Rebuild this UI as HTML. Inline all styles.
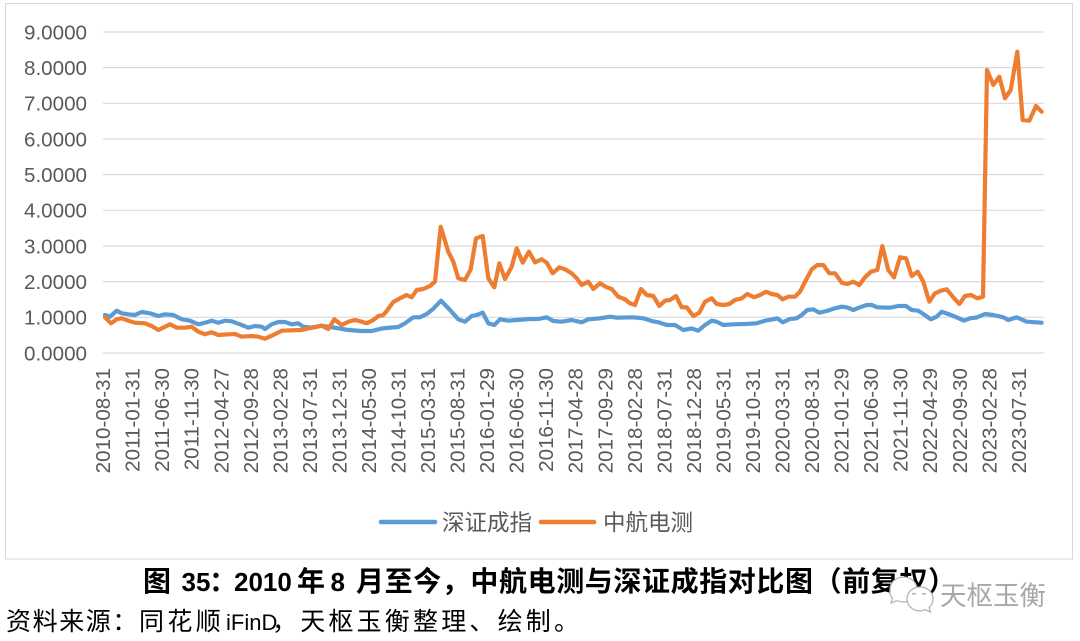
<!DOCTYPE html>
<html>
<head>
<meta charset="utf-8">
<style>
  html,body{margin:0;padding:0;background:#fff;}
  svg{display:block;}
  .lat{font-family:"Liberation Sans",Arial,sans-serif;}
  .cjk{font-family:"Liberation Sans","Noto Sans CJK SC","WenQuanYi Zen Hei",sans-serif;}
</style>
</head>
<body>
<svg width="1080" height="641" viewBox="0 0 1080 641" xmlns="http://www.w3.org/2000/svg">
  <rect x="0" y="0" width="1080" height="641" fill="#fff"/>
  <!-- chart border -->
  <rect x="5.5" y="3.5" width="1067" height="555.5" fill="#fff" stroke="#d9d9d9" stroke-width="1"/>

  <!-- gridlines -->
  <g stroke="#d9d9d9" stroke-width="1.2">
    <line x1="103" y1="353" x2="1044" y2="353"/>
    <line x1="103" y1="317.33" x2="1044" y2="317.33"/>
    <line x1="103" y1="281.66" x2="1044" y2="281.66"/>
    <line x1="103" y1="245.99" x2="1044" y2="245.99"/>
    <line x1="103" y1="210.32" x2="1044" y2="210.32"/>
    <line x1="103" y1="174.65" x2="1044" y2="174.65"/>
    <line x1="103" y1="138.98" x2="1044" y2="138.98"/>
    <line x1="103" y1="103.31" x2="1044" y2="103.31"/>
    <line x1="103" y1="67.64" x2="1044" y2="67.64"/>
    <line x1="103" y1="31.97" x2="1044" y2="31.97"/>
  </g>

  <!-- y labels -->
  <g class="lat" font-size="20.6" fill="#595959" text-anchor="end">
    <text x="87" y="360.4">0.0000</text>
    <text x="87" y="324.7">1.0000</text>
    <text x="87" y="289.1">2.0000</text>
    <text x="87" y="253.4">3.0000</text>
    <text x="87" y="217.7">4.0000</text>
    <text x="87" y="182.1">5.0000</text>
    <text x="87" y="146.4">6.0000</text>
    <text x="87" y="110.7">7.0000</text>
    <text x="87" y="75.0">8.0000</text>
    <text x="87" y="39.4">9.0000</text>
  </g>

  <!-- x labels -->
  <g class="lat" font-size="20.6" fill="#595959" text-anchor="end">
    <text transform="translate(102.7,368) rotate(-90)" dy="0.36em">2010-08-31</text>
    <text transform="translate(132.2,368) rotate(-90)" dy="0.36em">2011-01-31</text>
    <text transform="translate(161.8,368) rotate(-90)" dy="0.36em">2011-06-30</text>
    <text transform="translate(191.3,368) rotate(-90)" dy="0.36em">2011-11-30</text>
    <text transform="translate(220.9,368) rotate(-90)" dy="0.36em">2012-04-27</text>
    <text transform="translate(250.4,368) rotate(-90)" dy="0.36em">2012-09-28</text>
    <text transform="translate(279.9,368) rotate(-90)" dy="0.36em">2013-02-28</text>
    <text transform="translate(309.5,368) rotate(-90)" dy="0.36em">2013-07-31</text>
    <text transform="translate(339.0,368) rotate(-90)" dy="0.36em">2013-12-31</text>
    <text transform="translate(368.6,368) rotate(-90)" dy="0.36em">2014-05-30</text>
    <text transform="translate(398.1,368) rotate(-90)" dy="0.36em">2014-10-31</text>
    <text transform="translate(427.6,368) rotate(-90)" dy="0.36em">2015-03-31</text>
    <text transform="translate(457.2,368) rotate(-90)" dy="0.36em">2015-08-31</text>
    <text transform="translate(486.7,368) rotate(-90)" dy="0.36em">2016-01-29</text>
    <text transform="translate(516.3,368) rotate(-90)" dy="0.36em">2016-06-30</text>
    <text transform="translate(545.8,368) rotate(-90)" dy="0.36em">2016-11-30</text>
    <text transform="translate(575.3,368) rotate(-90)" dy="0.36em">2017-04-28</text>
    <text transform="translate(604.9,368) rotate(-90)" dy="0.36em">2017-09-29</text>
    <text transform="translate(634.4,368) rotate(-90)" dy="0.36em">2018-02-28</text>
    <text transform="translate(664.0,368) rotate(-90)" dy="0.36em">2018-07-31</text>
    <text transform="translate(693.5,368) rotate(-90)" dy="0.36em">2018-12-28</text>
    <text transform="translate(723.0,368) rotate(-90)" dy="0.36em">2019-05-31</text>
    <text transform="translate(752.6,368) rotate(-90)" dy="0.36em">2019-10-31</text>
    <text transform="translate(782.1,368) rotate(-90)" dy="0.36em">2020-03-31</text>
    <text transform="translate(811.7,368) rotate(-90)" dy="0.36em">2020-08-31</text>
    <text transform="translate(841.2,368) rotate(-90)" dy="0.36em">2021-01-29</text>
    <text transform="translate(870.7,368) rotate(-90)" dy="0.36em">2021-06-30</text>
    <text transform="translate(900.3,368) rotate(-90)" dy="0.36em">2021-11-30</text>
    <text transform="translate(929.8,368) rotate(-90)" dy="0.36em">2022-04-29</text>
    <text transform="translate(959.4,368) rotate(-90)" dy="0.36em">2022-09-30</text>
    <text transform="translate(988.9,368) rotate(-90)" dy="0.36em">2023-02-28</text>
    <text transform="translate(1018.4,368) rotate(-90)" dy="0.36em">2023-07-31</text>
  </g>

  <!-- blue series: 深证成指 -->
  <polyline fill="none" stroke="#5b9bd5" stroke-width="4.2" stroke-linejoin="round" stroke-linecap="round" points="
105,315 110,316.7 116.7,310.7 121.7,313.3 128.3,314.3 135,315 141.7,312 150,313.3 158.3,316 165,314.3 173.3,315
181.7,319.3 190,320.7 198.3,324.3 205,322.7 211.7,320.7 218.3,322.7 225,320.7 231.7,321.3 240,324.3 248.3,327.7
255,326 261.7,326.7 265,329 271.7,324.3 278.3,322 285,322 291.7,324.3 298.3,323.3 303.3,326.7 311.7,327.7
321.7,325.7 328.3,326.7 338.3,328.3 348.3,330 361.7,331 371.7,331 381.7,328.5 391.7,327.5 398.3,327 405,323.3
413.3,317.3 420,317.3 426.7,314 433.3,308.7 441,300.7 450,310 458.3,319.3 465,321.7 471.7,316 476.7,315
482.7,312.7 488.3,323.3 494.3,325 500,319.3 508.3,320.7 516.7,320 530,319 538.3,319 546.7,317.3 553.3,321
561.7,321.7 571.7,320 581.7,322.3 588.3,319.3 600,318.3 610,316.7 616.7,317.7 633.3,317.3 643.3,318.3 651.7,321
658.3,322.3 666.7,325 675,325 683.3,330 691.7,328.5 698.3,330.7 705,325 711.7,320.7 716.7,321.7 723.3,325
733.3,324.3 745,324 756.7,323.3 765,320.7 773.3,319.3 777.3,318.3 782.7,322.3 790,319 796.7,318.3 801.7,315
807.3,310 813.3,309.3 819.3,312.7 826.7,311 835,308.3 841.7,306.7 846.7,307.3 853.3,310 860,307.3 866.7,305
871.7,305 877.3,307.3 890,307.7 898.3,306 906,306 911.7,310 918.3,310.7 923.3,314 930.7,319.3 936.7,316.7
941.7,311.7 948.3,314 956.7,317.3 964,320.7 970,318.3 976.7,317.5 985,314 993.3,315 1003.3,317.3 1008.3,320
1016.7,317.3 1026.7,321.7 1041.7,322.7"/>

  <!-- orange series: 中航电测 -->
  <polyline fill="none" stroke="#ed7d31" stroke-width="4.2" stroke-linejoin="round" stroke-linecap="round" points="
105,317.3 111,323.3 116.7,319.3 121.7,318.3 128.3,320.7 135,322.7 145,323.3 151.7,326 158.3,330 165,326.7
170,324.3 176.7,327.7 185,327.7 191.7,326.7 198.3,331.7 205,334.3 211.7,332.3 218.3,335 228.3,334.3 235,334
241.7,336.7 251.7,336 258.3,336.7 265,338.7 271.7,335.7 281.7,330.7 291.7,330.3 301.7,330 311.7,327.7 321.7,325.7
328.3,329 334.3,319.3 341.7,325 348.3,321.7 355,320 361.7,321.7 366.7,323.3 373.3,320 378.3,316 383.3,315
386.7,311 393.3,302 400,298.3 406.7,295 411.7,297.3 416.7,290 423.3,289 430,286 435,281.7 440.7,226.7
448.3,251.7 453.3,261.7 458.3,278.3 465,280 470.7,269.3 476,238.3 482.7,236 488.3,278.3 494.3,287.3 499.3,263.3
505,279 511.7,266.7 516.7,248.3 522.7,262.7 529,251.7 535,262.3 541.7,259.3 546.7,262.7 552.7,273.3 559.3,267.3
565,269.3 571.7,273.3 576.7,278.3 581.7,285 588.3,281.7 593.3,289 600,283.3 606.7,287.3 611.7,289 618.3,296.7
625,299.3 630,303.3 635,305 641,289 646.7,295 653.3,296 659.3,306 665,300.7 670,300 676,296
681.7,307.3 686.7,307.3 693.3,316 699.3,312.7 705,301.7 711.7,298.3 716.7,304 723.3,305 729.3,304 735,300
741.7,298.3 747.3,294 754,297.3 760,295 766,291.7 771.7,294 777.3,295 782.7,299.3 788.3,296.7 795,296.7
800,291.7 806,280 811.7,269.3 817.3,265 823.3,265 829.3,273.3 835,273.3 841.7,282.7 847.3,284 853.3,281.7
859.3,285 865,277.3 871,271.7 877.3,270 882.3,246 888.3,270 894,277.3 900,257.3 906,258.3 911.7,276
917.7,271.7 923.3,281.7 929.3,301.7 935,293.3 941,290.7 946.7,289.3 953.3,297.3 959.3,304 965,296 971,295
977.3,298.3 983,296.7 987,70 993.3,85 999.3,76.7 1005,98.3 1010.7,90 1017.3,51.7 1022.7,120 1029.3,120.7
1036,106 1041.7,111.7"/>

  <!-- legend -->
  <line x1="381" y1="522" x2="435" y2="522" stroke="#5b9bd5" stroke-width="4.5" stroke-linecap="round"/>
  <text class="cjk" x="442" y="530.5" font-size="22.5" fill="#595959">深证成指</text>
  <line x1="541" y1="522" x2="594" y2="522" stroke="#ed7d31" stroke-width="4.5" stroke-linecap="round"/>
  <text class="cjk" x="603" y="530.5" font-size="22.5" fill="#595959">中航电测</text>

  <!-- caption -->
  <g font-weight="bold" fill="#000">
    <text class="cjk" x="143" y="591" font-size="28">图</text>
    <text class="lat" x="181.5" y="591" font-size="26">35</text>
    <text class="cjk" x="209" y="591" font-size="28">：</text>
    <text class="lat" x="234" y="591" font-size="26">2010</text>
    <text class="cjk" x="297" y="591" font-size="28">年</text>
    <text class="lat" x="330.5" y="591" font-size="26">8</text>
    <text class="cjk" x="356" y="591" font-size="28" letter-spacing="0.6">月至今，中航电测与深证成指对比图（前复权）</text>
  </g>

  <!-- watermark -->
  <g fill="#fff" stroke="#b5b5b5" stroke-width="1.3">
    <path d="M903.5,577 C911,577 917,582.5 917,589.5 C917,596.5 911,602 903.5,602 C901,602 899,601.5 897,600.7 L891,603 L892.5,598 C889.5,596 890,593 890,589.5 C890,582.5 896,577 903.5,577 Z"/>
    <path d="M920,587 C927.5,587 933,592.3 933,599 C933,602.5 931.5,605.5 929,607.5 L930.5,612 L925,609.5 C923.5,610.5 922,610.8 920,610.8 C912.5,610.8 907,605.5 907,599 C907,592.3 912.5,587 920,587 Z"/>
  </g>
  <g fill="#b5b5b5">
    <rect x="912" y="593" width="4" height="1.6"/>
    <rect x="922" y="593" width="4" height="1.6"/>
  </g>
  <text class="cjk" x="940" y="605" font-size="26.5" fill="#a8a8a8">天枢玉衡</text>

  <!-- source -->
  <g fill="#000" font-size="25">
    <text class="cjk" x="6" y="630" letter-spacing="1.6">资料来源：</text>
    <text class="cjk" x="139" y="630" letter-spacing="3.4">同花顺</text>
    <text class="lat" x="226" y="630" font-size="22">iFinD</text>
    <text class="cjk" x="272" y="630" letter-spacing="3.2">，天枢玉衡整理、绘制。</text>
  </g>
</svg>
</body>
</html>
